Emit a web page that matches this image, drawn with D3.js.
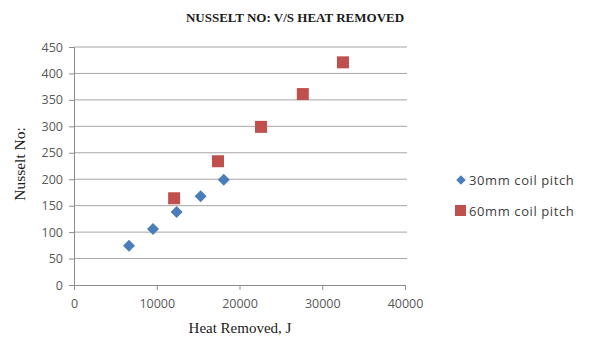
<!DOCTYPE html>
<html>
<head>
<meta charset="utf-8">
<script src="https://cdn.jsdelivr.net/npm/d3@7"></script>
<style>
  body { margin: 0; background: #fff; }
  svg { display: block; }
</style>
</head>
<body>
<svg id="chart" width="589" height="339"></svg>
<script>
// data
var pitch30X = [6650, 9550, 12400, 15300, 18100];
var pitch30Y = [74, 106, 138, 168, 199];
var pitch60X = [12100, 17400, 22600, 27650, 32500];
var pitch60Y = [164, 234, 299, 361, 421];
var seriesNames = ["30mm coil pitch", "60mm coil pitch"];
var xTicks = [0, 10000, 20000, 30000, 40000];
var yTicks = [0, 50, 100, 150, 200, 250, 300, 350, 400, 450];

var svg = d3.select('#chart');

var plotLeft = 74, plotRight = 405, plotTop = 47, plotBottom = 285;

var x = d3.scaleLinear().domain([0, 40000]).range([plotLeft, plotRight]);
var y = d3.scaleLinear().domain([0, 450]).range([plotBottom, plotTop]);

var gridColor = "#a6a6a6";
var labelColor = "#595959";

// horizontal gridlines
svg.append('g').selectAll('line')
  .data(yTicks.filter(function(d){ return d > 0; }))
  .enter().append('line')
  .attr('x1', plotLeft).attr('x2', plotRight + 2)
  .attr('y1', function(d){ return y(d); })
  .attr('y2', function(d){ return y(d); })
  .attr('stroke', gridColor).attr('stroke-width', 1);

// y axis
var yAxis = svg.append('g')
  .attr('transform', 'translate(' + plotLeft + ',0)')
  .call(d3.axisLeft(y).tickValues(yTicks).tickSize(5).tickPadding(6));
// x axis
var xAxis = svg.append('g')
  .attr('transform', 'translate(0,' + plotBottom + ')')
  .call(d3.axisBottom(x).tickValues(xTicks).tickSize(5).tickPadding(9).tickFormat(d3.format('d')));

[yAxis, xAxis].forEach(function(a){
  a.select('.domain').attr('stroke', '#8c8c8c');
  a.selectAll('.tick line').attr('stroke', '#8c8c8c');
  a.selectAll('.tick text')
    .attr('fill', labelColor)
    .style('font-family', '"Open Sans", "Liberation Sans", sans-serif')
    .style('font-size', '12.5px');
});

// 30mm series - diamonds (square turned 45 degrees)
var diamond = d3.symbol().type(d3.symbolSquare).size(72);
svg.append('g').selectAll('path')
  .data(pitch30X.map(function(d, i){ return [d, pitch30Y[i]]; }))
  .enter().append('path')
  .attr('d', diamond)
  .attr('transform', function(d){ return 'translate(' + x(d[0]) + ',' + y(d[1]) + ') rotate(45)'; })
  .attr('fill', '#4a7ebb');

// 60mm series - squares
var sq = 12;
svg.append('g').selectAll('rect')
  .data(pitch60X.map(function(d, i){ return [d, pitch60Y[i]]; }))
  .enter().append('rect')
  .attr('x', function(d){ return x(d[0]) - sq / 2; })
  .attr('y', function(d){ return y(d[1]) - sq / 2; })
  .attr('width', sq).attr('height', sq)
  .attr('fill', '#c0504d');

// title
svg.append('text')
  .attr('x', 295).attr('y', 22)
  .attr('text-anchor', 'middle')
  .style('font-family', '"Liberation Serif", "Times New Roman", serif')
  .style('font-weight', 'bold')
  .style('font-size', '13px')
  .attr('fill', '#1a1a1a')
  .text('NUSSELT NO: V/S HEAT  REMOVED');

// axis titles
svg.append('text')
  .attr('transform', 'translate(25,164) rotate(-90)')
  .attr('text-anchor', 'middle')
  .style('font-family', '"Liberation Serif", "Times New Roman", serif')
  .style('font-size', '15.5px')
  .attr('fill', '#1a1a1a')
  .text('Nusselt No:');

svg.append('text')
  .attr('x', 240).attr('y', 333)
  .attr('text-anchor', 'middle')
  .style('font-family', '"Liberation Serif", "Times New Roman", serif')
  .style('font-size', '15px')
  .attr('fill', '#1a1a1a')
  .text('Heat Removed, J');

// legend
var legend = svg.append('g');
legend.append('path')
  .attr('d', d3.symbol().type(d3.symbolSquare).size(45))
  .attr('transform', 'translate(461,180) rotate(45)')
  .attr('fill', '#4a7ebb');
legend.append('rect')
  .attr('x', 455).attr('y', 205).attr('width', 11).attr('height', 11)
  .attr('fill', '#c0504d');
legend.selectAll('text')
  .data(seriesNames)
  .enter().append('text')
  .attr('x', 469)
  .attr('y', function(d, i){ return 185 + i * 31; })
  .style('font-family', '"Open Sans", "Liberation Sans", sans-serif')
  .style('font-size', '13px')
  .style('letter-spacing', '0.6px')
  .attr('fill', '#404040')
  .text(function(d){ return d; });
</script>
</body>
</html>
